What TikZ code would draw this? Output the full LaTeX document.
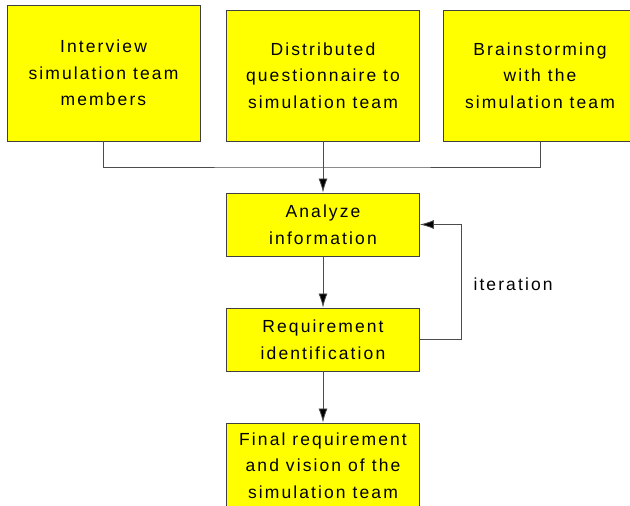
\documentclass[tikz,border=0pt]{standalone}
\usepackage{fontspec}
\setmainfont[LetterSpace=12]{Liberation Sans}
\usetikzlibrary{shapes,arrows.meta}
\definecolor{boxyellow}{RGB}{255,255,0}
\tikzstyle{block} = [rectangle, draw=black!75, line width=0.9pt, fill=boxyellow, align=center, minimum width=193pt, inner sep=0pt, font=\fontsize{17.5}{26.5}\selectfont]
\tikzstyle{joinline} = [draw, black!70, line width=0.8pt]
\tikzstyle{line} = [draw, black!70, line width=0.8pt, -{Latex[length=14pt,width=9pt,fill=black]}]

\begin{document}
\begin{tikzpicture}[x=1pt, y=-1pt]
\useasboundingbox (0,0) rectangle (630,506);

% sources
\node [block, minimum height=136pt] at (103.5, 73) (interview) {Interview\\simulation team\\members};
\node [block, minimum height=131pt] at (323, 75.5) (quest) {Distributed\\questionnaire to\\simulation team};
\node [block, minimum height=131pt] at (540, 75.5) (brain) {Brainstorming\\with the\\simulation team};

\coordinate (join) at (323, 167);
\path [joinline] (interview.south) |- (join) -| (brain.south);

% analysis
\node [block, minimum height=63pt] at (323, 224.5) (analyze) {Analyze\\information};
\node [block, minimum height=63pt] at (323, 339.5) (req) {Requirement\\identification};
\path [line] (quest.south) to (analyze.north);
\path [line] (analyze.south) to (req.north);
\path [line] (req.east) -- ++(41, 0) |- (analyze.east);
\node [anchor=west, font=\fontsize{17.5}{26.5}\selectfont] at (470, 284) (iter) {iteration};

% result
\node [block, minimum height=85pt] at (323, 465.5) (final) {Final requirement\\and vision of the\\simulation team};
\path [line] (req.south) to (final.north);

\end{tikzpicture}
\end{document}
